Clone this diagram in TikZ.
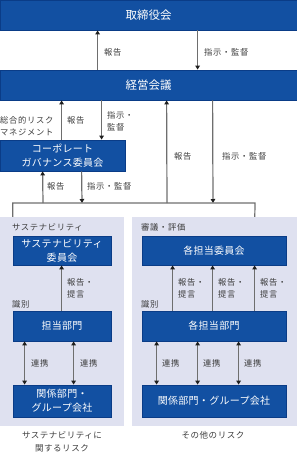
\documentclass[tikz,border=0pt]{standalone}
\usepackage{fontspec}
\setmainfont{Noto Sans CJK JP}
\usetikzlibrary{arrows.meta}
\definecolor{boxblue}{RGB}{18,80,162}
\definecolor{boxedge}{RGB}{10,60,135}
\definecolor{panelbg}{RGB}{223,225,240}
\definecolor{linegray}{RGB}{110,110,110}
\definecolor{tipgray}{RGB}{30,30,30}
\definecolor{txtgray}{RGB}{60,60,60}
\tikzstyle{blk}=[rectangle,fill=boxblue,draw=boxedge,line width=0.8pt,text=white,font=\fontsize{10}{14}\selectfont\addfontfeature{LetterSpace=3},align=center,inner sep=0pt]
\tikzstyle{pnl}=[rectangle,fill=panelbg,inner sep=0pt]
\tikzstyle{lbl}=[anchor=west,text=txtgray,font=\fontsize{8.3}{12}\selectfont\addfontfeature{LetterSpace=8},align=left,inner sep=0pt]
\tikzstyle{wire}=[line width=1.2pt,draw=linegray]
\tikzstyle{arr}=[wire,-{Triangle[length=4pt,width=4.5pt,color=tipgray]}]
\tikzstyle{dbl}=[wire,{Triangle[length=4pt,width=4.5pt,color=tipgray]}-{Triangle[length=4pt,width=4.5pt,color=tipgray]}]

\begin{document}
\begin{tikzpicture}[x=1pt,y=-1pt]
\useasboundingbox (0,0) rectangle (297,453);
\node[blk,minimum width=297pt,minimum height=30pt,font=\fontsize{11.5}{14}\selectfont] (tori) at (148.5,15) {取締役会};
\node[blk,minimum width=297pt,minimum height=30pt,font=\fontsize{11.5}{14}\selectfont] (keiei) at (148.5,85) {経営会議};
\node[blk,minimum width=125pt,minimum height=31pt] (cg) at (62.5,155.5) {コーポレート\\ガバナンス委員会};
\node[pnl,minimum width=124pt,minimum height=209pt] (panelL) at (62,321.5) {};
\node[pnl,minimum width=165pt,minimum height=209pt] (panelR) at (214.5,321.5) {};
\node[blk,minimum width=98pt,minimum height=29pt] (sust) at (62,250.5) {サステナビリティ\\委員会};
\node[blk,minimum width=144pt,minimum height=29pt] (kakuCom) at (214,250.5) {各担当委員会};
\node[blk,minimum width=98pt,minimum height=30pt] (tanto) at (62,326) {担当部門};
\node[blk,minimum width=144pt,minimum height=30pt] (kakuTanto) at (214,326) {各担当部門};
\node[blk,minimum width=98pt,minimum height=32pt] (kankeiL) at (62,401) {関係部門・\\グループ会社};
\node[blk,minimum width=144pt,minimum height=32pt] (kankeiR) at (214,401) {関係部門・グループ会社};
\coordinate (bus) at (0,203);

\draw[arr] ([xshift=98pt]keiei.north west) -- ([xshift=98pt]tori.south west);
\draw[arr] ([xshift=198pt]tori.south west) -- ([xshift=198pt]keiei.north west);
\node[lbl] (hokoku1) at (104,52) {報告};
\node[lbl] (shiji1) at (204,52) {指示・監督};

\draw[arr] ([xshift=62pt]cg.north west) -- ([xshift=62pt]keiei.south west);
\draw[arr] ([xshift=102pt]keiei.south west) -- ([xshift=102pt]cg.north west);
\node[lbl] (sogo) at (0,126) {総合的リスク\\マネジメント};
\node[lbl] (hokoku2) at (67,120) {報告};
\node[lbl] (shiji2) at (107,121) {指示・\\監督};

\draw[arr] ([xshift=43pt]bus) -- ([xshift=43pt]cg.south west);
\draw[arr] ([xshift=82pt]cg.south west) -- ([xshift=82pt]bus);
\node[lbl] (hokoku3) at (47,186) {報告};
\node[lbl] (shiji3) at (87,186) {指示・監督};

\draw[arr] ([xshift=167pt]bus) -- ([xshift=167pt]keiei.south west);
\draw[arr] ([xshift=213pt]keiei.south west) -- ([xshift=213pt]bus);
\node[lbl] (hokoku4) at (174,156) {報告};
\node[lbl] (shiji4) at (222,156) {指示・監督};

\draw[wire] ([xshift=13pt]panelL.north west) |- ([xshift=255pt]bus) -- ([xshift=123pt]panelR.north west);

\node[lbl] (sustTitle) at (12,227) {サステナビリティ};
\node[lbl] (shingi) at (141,227) {審議・評価};
\node[lbl] (shikiL) at (12,304) {識別};
\node[lbl] (shikiR) at (141,304) {識別};

\draw[arr] ([xshift=49pt]tanto.north west) -- ([xshift=49pt]sust.south west);
\node[lbl] (teigenL) at (67,288) {報告・\\提言};
\foreach \dx in {12,61}{
  \draw[dbl] ([xshift=\dx pt]tanto.south west) -- ([xshift=\dx pt]kankeiL.north west);
  \node[lbl] (renkeiL\dx) at (\dx+19,363) {連携};
}
\foreach \dx in {31,71,113}{
  \draw[arr] ([xshift=\dx pt]kakuTanto.north west) -- ([xshift=\dx pt]kakuCom.south west);
  \node[lbl] (teigenR\dx) at (\dx+147,288) {報告・\\提言};
}
\foreach \dx in {15,56,97}{
  \draw[dbl] ([xshift=\dx pt]kakuTanto.south west) -- ([xshift=\dx pt]kankeiR.north west);
  \node[lbl] (renkeiR\dx) at (\dx+147,363) {連携};
}

\node[lbl,anchor=center,align=center,font=\fontsize{8.5}{13}\selectfont\addfontfeature{LetterSpace=6}] (capL) at (62,441.5) {サステナビリティに\\関するリスク};
\node[lbl,anchor=center,align=center,font=\fontsize{8.5}{13}\selectfont\addfontfeature{LetterSpace=6}] (capR) at (213,435) {その他のリスク};
\end{tikzpicture}
\end{document}
